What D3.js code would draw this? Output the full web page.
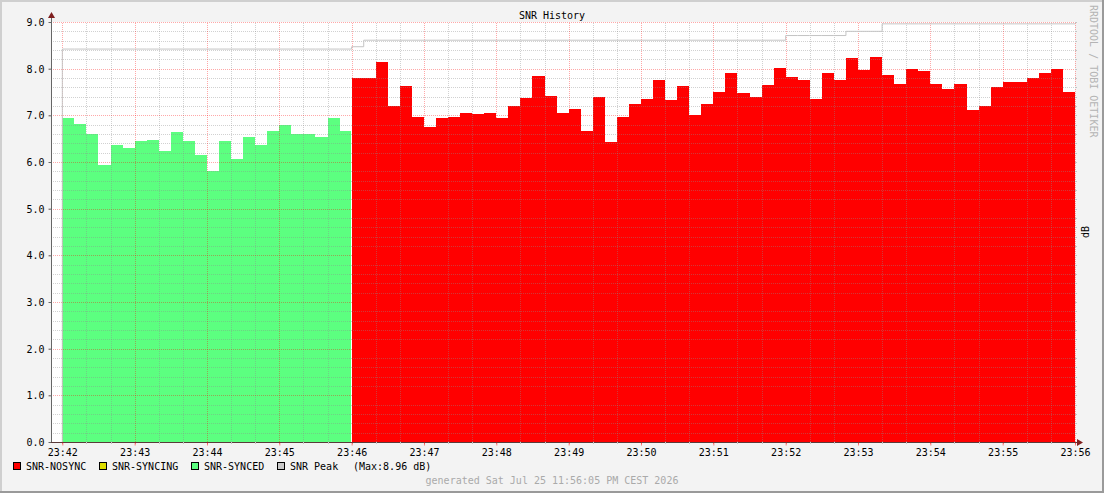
<!DOCTYPE html>
<html>
<head>
<meta charset="utf-8">
<script src="https://cdn.jsdelivr.net/npm/d3@7"></script>
<style>
  html, body { margin: 0; padding: 0; background: #f3f3f3; }
  svg { display: block; }
  text { font-family: "DejaVu Sans Mono", monospace; font-size: 10px; }
</style>
</head>
<body>
<script>
// SNR readings, one per 10 s step starting 23:42:00
const syncedSnr = [
  6.95, 6.82, 6.61, 5.93, 6.37, 6.31, 6.46, 6.48, 6.24, 6.65, 6.44, 6.16,
  5.80, 6.46, 6.07, 6.54, 6.37, 6.67, 6.79, 6.61, 6.61, 6.53, 6.95, 6.67
];
const nosyncSnr = [
  7.79, 7.79, 8.15, 7.21, 7.62, 6.96, 6.75, 6.94, 6.96, 7.04, 7.02, 7.06,
  6.94, 7.21, 7.38, 7.85, 7.42, 7.06, 7.14, 6.67, 7.40, 6.42, 6.96, 7.25,
  7.36, 7.75, 7.32, 7.62, 7.00, 7.25, 7.49, 7.90, 7.47, 7.40, 7.64, 8.02,
  7.83, 7.75, 7.34, 7.91, 7.75, 8.22, 7.98, 8.26, 7.87, 7.68, 8.00, 7.94,
  7.68, 7.56, 7.68, 7.12, 7.21, 7.60, 7.72, 7.72, 7.79, 7.91, 8.00, 7.49
];
const syncingSnr = [];
const peakSnr = [
  8.42, 8.42, 8.42, 8.42, 8.42, 8.42, 8.42, 8.42, 8.42, 8.42, 8.42, 8.42,
  8.42, 8.42, 8.42, 8.42, 8.42, 8.42, 8.42, 8.42, 8.42, 8.42, 8.42, 8.42,
  8.47, 8.61, 8.61, 8.61, 8.61, 8.61, 8.61, 8.61, 8.61, 8.61, 8.61, 8.61,
  8.61, 8.61, 8.61, 8.61, 8.61, 8.61, 8.61, 8.61, 8.61, 8.61, 8.61, 8.61,
  8.61, 8.61, 8.61, 8.61, 8.61, 8.61, 8.61, 8.61, 8.61, 8.61, 8.61, 8.61,
  8.71, 8.71, 8.71, 8.71, 8.71, 8.80, 8.80, 8.80, 8.96, 8.96, 8.96, 8.96,
  8.96, 8.96, 8.96, 8.96, 8.96, 8.96, 8.96, 8.96, 8.96, 8.96, 8.96, 8.96
];
const yTicks = [0, 1, 2, 3, 4, 5, 6, 7, 8, 9];
const legendItems = [
  { label: "SNR-NOSYNC", color: "#ff0000" },
  { label: "SNR-SYNCING", color: "#dddd00" },
  { label: "SNR-SYNCED", color: "#5cff80" },
  { label: "SNR Peak", color: "#c8c8c8" }
];
const peakNote = "(Max:8.96 dB)";
const footer = "generated Sat Jul 25 11:56:05 PM CEST 2026";

const width = 1104, height = 493;
const stepMs = 10000;
const t0 = new Date(2026, 6, 25, 23, 42, 0);
const tAt = (i) => new Date(t0.getTime() + i * stepMs);

const x = d3.scaleTime()
  .domain([new Date(2026, 6, 25, 23, 41, 50, 600), new Date(2026, 6, 25, 23, 56, 0)])
  .range([51, 1075]);
const y = d3.scaleLinear().domain([0, 9]).range([442, 22]);

const svg = d3.select("body").append("svg")
  .attr("width", width)
  .attr("height", height);

// frame
svg.append("rect").attr("width", width).attr("height", height).attr("fill", "#f3f3f3");
svg.append("rect").attr("x", 0).attr("y", 0).attr("width", width).attr("height", 2).attr("fill", "#cfcfcf");
svg.append("rect").attr("x", 0).attr("y", 0).attr("width", 2).attr("height", height).attr("fill", "#cfcfcf");
svg.append("rect").attr("x", width - 2).attr("y", 0).attr("width", 2).attr("height", height).attr("fill", "#9a9a9a");
svg.append("rect").attr("x", 0).attr("y", height - 2).attr("width", width).attr("height", 2).attr("fill", "#9a9a9a");

// canvas
svg.append("rect")
  .attr("x", x.range()[0]).attr("y", y(9))
  .attr("width", x.range()[1] - x.range()[0])
  .attr("height", y(0) - y(9))
  .attr("fill", "#ffffff");

// areas
const area = d3.area()
  .x((d) => d.x)
  .y0(y(0))
  .y1((d) => y(d.v))
  .curve(d3.curveStepAfter);

function steps(values, offset, gap) {
  const pts = values.map((v, i) => ({ x: x(tAt(offset + i)), v }));
  pts.push({ x: x(tAt(offset + values.length)) - gap, v: values[values.length - 1] });
  return pts;
}

svg.append("path")
  .attr("d", area(steps(syncedSnr, 0, 0.8)))
  .attr("fill", "#5cff80")
  .attr("shape-rendering", "crispEdges");
svg.append("path")
  .attr("d", area(steps(nosyncSnr, syncedSnr.length, 0)))
  .attr("fill", "#ff0000")
  .attr("shape-rendering", "crispEdges");

// grid over the areas
const grid = svg.append("g");
const minorX = x.ticks(d3.timeSecond.every(20)).filter((d) => d.getSeconds() !== 0);
const majorX = x.ticks(d3.timeMinute.every(1));
const minorY = d3.range(1, 45).filter((k) => k % 5 !== 0).map((k) => k / 5);
const minorColor = "rgba(140,140,140,0.4)";
const majorColor = "rgba(255,0,0,0.34)";

grid.selectAll(".vminor").data(minorX).join("line")
  .attr("x1", (d) => Math.round(x(d)) + 0.5).attr("x2", (d) => Math.round(x(d)) + 0.5)
  .attr("y1", y(0)).attr("y2", y(9))
  .attr("stroke", minorColor)
  .attr("stroke-dasharray", "1,1");
grid.selectAll(".hminor").data(minorY).join("line")
  .attr("x1", x.range()[0]).attr("x2", x.range()[1])
  .attr("y1", (d) => Math.round(y(d)) + 0.5).attr("y2", (d) => Math.round(y(d)) + 0.5)
  .attr("stroke", minorColor)
  .attr("stroke-dasharray", "1,1");
grid.selectAll(".vmajor").data(majorX).join("line")
  .attr("x1", (d) => Math.round(x(d)) + 0.5).attr("x2", (d) => Math.round(x(d)) + 0.5)
  .attr("y1", y(0) + 2).attr("y2", y(9))
  .attr("stroke", majorColor)
  .attr("stroke-dasharray", "1,1");
grid.selectAll(".hmajor").data(yTicks.slice(1)).join("line")
  .attr("x1", x.range()[0] - 2).attr("x2", x.range()[1] + 2)
  .attr("y1", (d) => Math.round(y(d)) + 0.5).attr("y2", (d) => Math.round(y(d)) + 0.5)
  .attr("stroke", majorColor)
  .attr("stroke-dasharray", "1,1");

// right side tick marks
grid.selectAll(".rtick").data(minorY.concat(yTicks)).join("line")
  .attr("x1", x.range()[1]).attr("x2", x.range()[1] + 2)
  .attr("y1", (d) => Math.round(y(d)) + 0.5).attr("y2", (d) => Math.round(y(d)) + 0.5)
  .attr("stroke", "#c4c4c4");

// peak line
const peakPts = [{ x: x(tAt(0)), v: 0 }].concat(steps(peakSnr, 0, 0));
svg.append("path")
  .attr("d", d3.line().x((d) => d.x).y((d) => y(d.v)).curve(d3.curveStepAfter)(peakPts))
  .attr("fill", "none")
  .attr("stroke", "#c4c4c4")
  .attr("stroke-width", 1);

// axes
const yAxis = d3.axisLeft(y)
  .tickValues(yTicks)
  .tickFormat(d3.format(".1f"))
  .tickSize(3)
  .tickPadding(4);
svg.append("g")
  .attr("transform", `translate(${x.range()[0] + 0.5},0)`)
  .call(yAxis)
  .call((g) => g.select(".domain").attr("d", `M0,${y(0)}V${y(9) - 5}`).attr("stroke", "#666"))
  .call((g) => g.selectAll(".tick line").attr("stroke", "#666"))
  .call((g) => g.selectAll(".tick text")
    .attr("font-family", "DejaVu Sans Mono").attr("font-size", 10).attr("fill", "#000")
    .attr("dy", "0.35em"));

const xAxis = d3.axisBottom(x)
  .ticks(d3.timeMinute.every(1))
  .tickFormat(d3.timeFormat("%H:%M"))
  .tickSize(3)
  .tickPadding(4);
svg.append("g")
  .attr("transform", `translate(0,${y(0) + 0.5})`)
  .call(xAxis)
  .call((g) => g.select(".domain").attr("d", `M${x.range()[0]},0H${x.range()[1] + 3}`).attr("stroke", "#5a3a3a"))
  .call((g) => g.selectAll(".tick line").attr("stroke", "rgba(255,0,0,0.5)"))
  .call((g) => g.selectAll(".tick text")
    .attr("font-family", "DejaVu Sans Mono").attr("font-size", 10).attr("fill", "#000")
    .attr("y", 13).attr("dy", 0));
svg.append("g").selectAll("line").data(minorX).join("line")
  .attr("x1", (d) => Math.round(x(d)) + 0.5).attr("x2", (d) => Math.round(x(d)) + 0.5)
  .attr("y1", y(0)).attr("y2", y(0) + 2)
  .attr("stroke", "#c4c4c4");

// arrows
svg.append("path")
  .attr("d", `M${x.range()[0] + 0.5 - 3.5},${y(9) - 4}L${x.range()[0] + 0.5},${y(9) - 10}L${x.range()[0] + 0.5 + 3.5},${y(9) - 4}Z`)
  .attr("fill", "#7f1f1f");
svg.append("path")
  .attr("d", `M${x.range()[1] + 2},${y(0) + 0.5 - 3.5}L${x.range()[1] + 8},${y(0) + 0.5}L${x.range()[1] + 2},${y(0) + 0.5 + 3.5}Z`)
  .attr("fill", "#7f1f1f");

// title
svg.append("text")
  .attr("x", 552).attr("y", 19)
  .attr("text-anchor", "middle")
  .attr("fill", "#000")
  .text("SNR History");

// unit label
svg.append("text")
  .attr("transform", "translate(1089,232) rotate(-90)")
  .attr("text-anchor", "middle")
  .attr("fill", "#000")
  .text("dB");

// watermark
svg.append("text")
  .attr("transform", "translate(1090,5) rotate(90)")
  .attr("fill", "#b4b4b4")
  .text("RRDTOOL / TOBI OETIKER");

// legend
const legendX = [13, 99, 191, 277];
const legend = svg.append("g");
legendItems.forEach((item, i) => {
  legend.append("rect")
    .attr("x", legendX[i] + 0.5).attr("y", 462.5)
    .attr("width", 7).attr("height", 7)
    .attr("fill", item.color)
    .attr("stroke", "#000");
  legend.append("text")
    .attr("x", legendX[i] + 13).attr("y", 470)
    .attr("fill", "#000")
    .text(item.label);
});
legend.append("text")
  .attr("x", 353).attr("y", 470)
  .attr("fill", "#000")
  .text(peakNote);

svg.append("text")
  .attr("x", 552).attr("y", 484)
  .attr("text-anchor", "middle")
  .attr("fill", "#aaaaaa")
  .text(footer);
</script>
</body>
</html>
